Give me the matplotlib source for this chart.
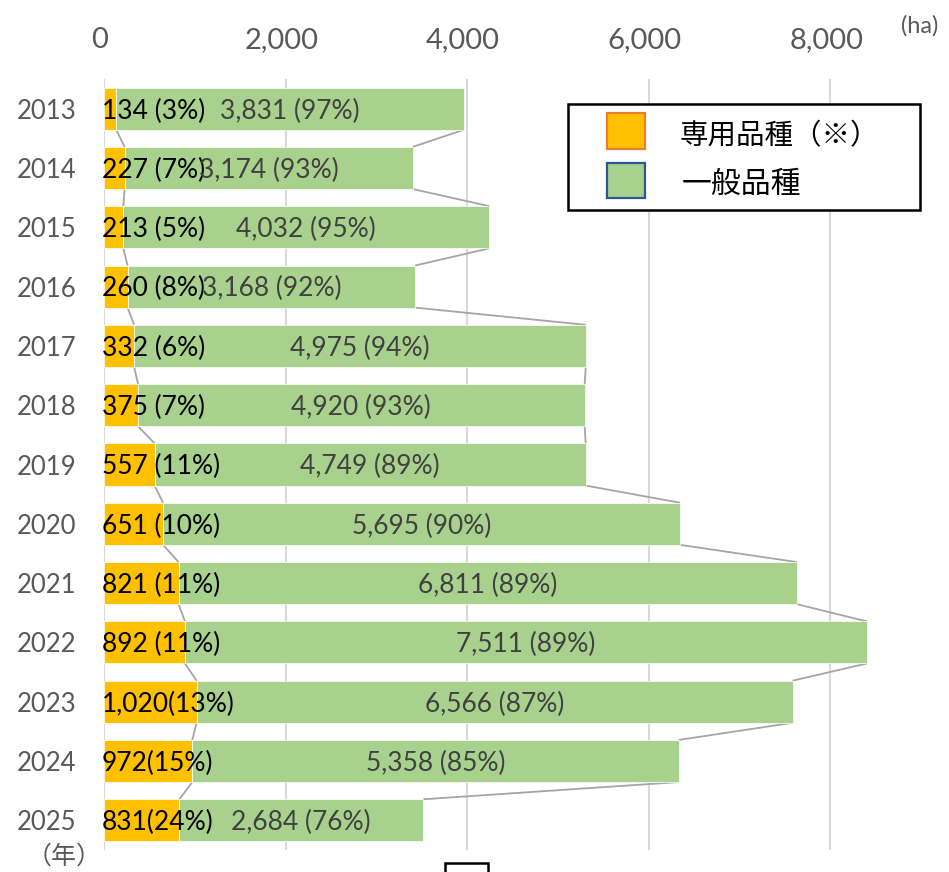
import matplotlib
matplotlib.use("Agg")
import matplotlib.pyplot as plt
from matplotlib.patches import Rectangle
from matplotlib.transforms import ScaledTranslation
import numpy as np

years = ["2013", "2014", "2015", "2016", "2017", "2018", "2019",
         "2020", "2021", "2022", "2023", "2024", "2025"]
dedicated = [134, 227, 213, 260, 332, 375, 557, 651, 821, 892, 1020, 972, 831]
general = [3831, 3174, 4032, 3168, 4975, 4920, 4749, 5695, 6811, 7511, 6566, 5358, 2684]
dedicated_labels = ["134 (3%)", "227 (7%)", "213 (5%)", "260 (8%)", "332 (6%)",
                    "375 (7%)", "557 (11%)", "651 (10%)", "821 (11%)", "892 (11%)",
                    "1,020(13%)", "972(15%)", "831(24%)"]
general_pct = [97, 93, 95, 92, 94, 93, 89, 90, 89, 89, 87, 85, 76]
xticks = [0, 2000, 4000, 6000, 8000]

ORANGE = "#FFC000"
GREEN = "#A9D18E"
GRID = "#D9D9D9"
TICK = "#595959"
LBL = "#404040"
NUM = "Lato"
JP = ["Noto Sans CJK JP", "DejaVu Sans"]

W, H = 949, 872
fig = plt.figure(figsize=(W / 100, H / 100), dpi=100)
ax = fig.add_axes([104 / W, 1 - 850 / H, (921 - 104) / W, (850 - 79) / H])

y = np.arange(len(years))
ded = np.array(dedicated)
tot = ded + np.array(general)
bh = 0.71

ax.barh(y, ded, height=bh, color=ORANGE, edgecolor="white", linewidth=0.5, zorder=3)
ax.barh(y, general, left=ded, height=bh, color=GREEN, edgecolor="white", linewidth=0.5, zorder=3)

# series lines between bars
for i in range(len(years) - 1):
    for ends in (ded, tot):
        ax.plot([ends[i], ends[i + 1]], [i + bh / 2, i + 1 - bh / 2],
                color="#A5A5A5", lw=1.3, zorder=2, solid_capstyle="butt")

for i in range(len(years)):
    ax.text(-25, i + 0.04, dedicated_labels[i], ha="left", va="center",
            fontsize=19, family=NUM, color="black", zorder=5)
    ax.text(ded[i] + general[i] / 2, i + 0.04, f"{general[i]:,} ({general_pct[i]}%)",
            ha="center", va="center", fontsize=19, family=NUM, color=LBL, zorder=5)

ax.set_xlim(0, 9000)
ax.set_ylim(len(years) - 0.5, -0.5)
ax.set_xticks(xticks)
ax.set_xticklabels([f"{t:,}" for t in xticks], fontsize=21, family=NUM, color=TICK)
ax.xaxis.tick_top()
ax.set_yticks(y)
ax.set_yticklabels(years, fontsize=18.5, family=NUM, color=TICK)
ax.tick_params(axis="x", length=0, pad=19)
ax.tick_params(axis="y", length=0, pad=20)
ax.grid(axis="x", color=GRID, lw=1.5, zorder=0)
for s in ax.spines.values():
    s.set_visible(False)
shift = ScaledTranslation(-4 / 100, 0, fig.dpi_scale_trans)
for lbl in ax.get_xticklabels():
    lbl.set_transform(lbl.get_transform() + shift)

# unit labels
fig.text(920 / W, 1 - 26 / H, "(ha)", ha="center", va="center",
         fontsize=17, family=NUM, color=TICK)
fig.text(64 / W, 1 - 857 / H, "（年）", ha="center", va="center",
         fontsize=18, family=JP, color=TICK)

# legend box
def px(x0, y0, w, h, **kw):
    return Rectangle((x0 / W, 1 - (y0 + h) / H), w / W, h / H,
                     transform=fig.transFigure, **kw)

fig.patches.append(px(568, 104, 352, 106, facecolor="white", edgecolor="black", lw=1.8, zorder=10))
fig.patches.append(px(607, 113, 38, 36, facecolor=ORANGE, edgecolor="#ED7D31", lw=1.6, zorder=11))
fig.patches.append(px(607, 163, 38, 35, facecolor=GREEN, edgecolor="#2F5597", lw=1.6, zorder=11))
fig.text(680 / W, 1 - 136 / H, "専用品種（※）", ha="left", va="center",
         fontsize=20.5, family=JP, color="black", zorder=12)
fig.text(682 / W, 1 - 184 / H, "一般品種", ha="left", va="center",
         fontsize=21.5, family=JP, color="black", zorder=12)

# partially visible box at bottom edge
fig.patches.append(px(445, 863, 43, 30, facecolor="white", edgecolor="black", lw=1.8,
                      clip_on=False, zorder=10))

fig.savefig("out.png", dpi=100)
